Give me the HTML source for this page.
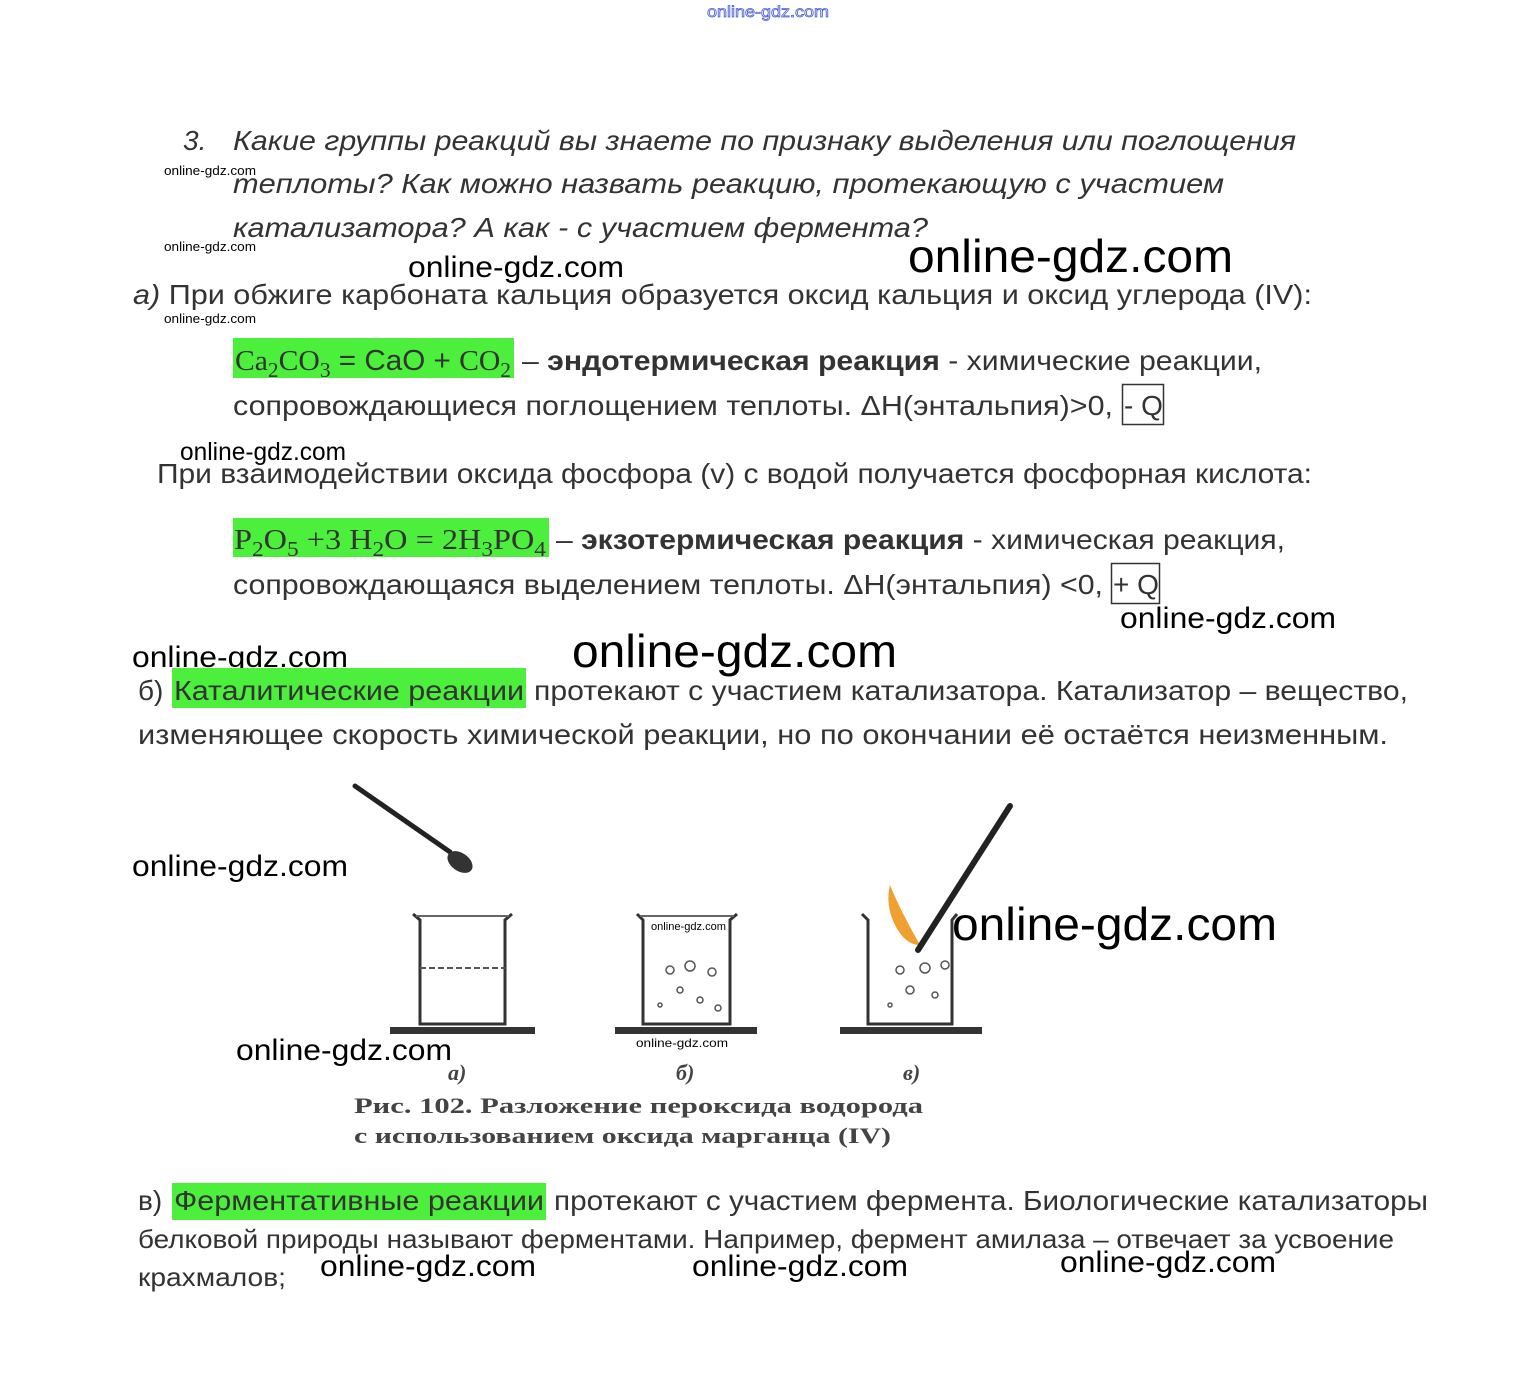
<!DOCTYPE html>
<html><head><meta charset="utf-8"><style>
html,body{margin:0;padding:0;background:#fff;}
svg{display:block;}
.b{font-family:"Liberation Sans","DejaVu Sans",sans-serif;font-size:28px;fill:#333;}
.i{font-family:"Liberation Sans","DejaVu Sans",sans-serif;font-size:28px;fill:#333;font-style:italic;}
.w{font-family:"Liberation Sans","DejaVu Sans",sans-serif;fill:#000;}
.f{font-family:"Liberation Serif","DejaVu Serif",serif;font-size:29px;fill:#333;}
.c{font-family:"Liberation Serif","DejaVu Serif",serif;font-size:22px;font-weight:bold;fill:#444;}
</style></head><body>
<svg width="1537" height="1379" viewBox="0 0 1537 1379" xmlns="http://www.w3.org/2000/svg">
<text x="707" y="17" class="w" style="font-size:16px;fill:none;stroke:#4a5fd0;stroke-width:0.8" textLength="122" lengthAdjust="spacingAndGlyphs">online-gdz.com</text>

<text x="183" y="150" class="i">3.</text>
<text x="233" y="150" class="i" textLength="1063" lengthAdjust="spacingAndGlyphs">Какие группы реакций вы знаете по признаку выделения или поглощения</text>
<text x="233" y="193" class="i" textLength="991" lengthAdjust="spacingAndGlyphs">теплоты? Как можно назвать реакцию, протекающую с участием</text>
<text x="233" y="237" class="i" textLength="695" lengthAdjust="spacingAndGlyphs">катализатора? А как -  с участием фермента?</text>
<text x="164" y="175" class="w" style="font-size:13px" textLength="92" lengthAdjust="spacingAndGlyphs">online-gdz.com</text>
<text x="164" y="251" class="w" style="font-size:13px" textLength="92" lengthAdjust="spacingAndGlyphs">online-gdz.com</text>
<text x="164" y="323" class="w" style="font-size:13px" textLength="92" lengthAdjust="spacingAndGlyphs">online-gdz.com</text>
<text x="408" y="277" class="w" style="font-size:30px" textLength="216" lengthAdjust="spacingAndGlyphs">online-gdz.com</text>
<text x="908" y="272" class="w" style="font-size:46px" textLength="325" lengthAdjust="spacingAndGlyphs">online-gdz.com</text>

<text x="133" y="304" class="b" textLength="1179" lengthAdjust="spacingAndGlyphs"><tspan font-style="italic">а)</tspan> При обжиге карбоната кальция образуется оксид кальция и оксид углерода (IV):</text>

<rect x="233" y="338" width="281" height="40" fill="#4cf03c"/>
<text x="235" y="370" class="f" textLength="276" lengthAdjust="spacingAndGlyphs">Ca<tspan dy="7" font-size="21">2</tspan><tspan dy="-7">CO</tspan><tspan dy="7" font-size="21">3</tspan><tspan dy="-7" font-family="Liberation Sans"> = CaO + </tspan>CO<tspan dy="7" font-size="21">2</tspan></text>
<text x="522" y="370" class="b" textLength="740" lengthAdjust="spacingAndGlyphs">– <tspan font-weight="bold">эндотермическая реакция</tspan> - химические реакции,</text>
<text x="233" y="415" class="b" textLength="880" lengthAdjust="spacingAndGlyphs">сопровождающиеся поглощением теплоты. ΔH(энтальпия)&gt;0,</text>
<rect x="1122.5" y="384.5" width="41" height="40" fill="none" stroke="#333" stroke-width="1.5"/>
<text x="1124" y="415" class="b">- Q</text>
<text x="180" y="460" class="w" style="font-size:25px" textLength="166" lengthAdjust="spacingAndGlyphs">online-gdz.com</text>

<text x="157" y="483" class="b" textLength="1155" lengthAdjust="spacingAndGlyphs">При взаимодействии оксида фосфора (v) с водой получается фосфорная кислота:</text>
<rect x="233" y="518" width="316" height="39" fill="#4cf03c"/>
<text x="234" y="549" class="f" textLength="312" lengthAdjust="spacingAndGlyphs">P<tspan dy="7" font-size="21">2</tspan><tspan dy="-7">O</tspan><tspan dy="7" font-size="21">5</tspan><tspan dy="-7"> +3 H</tspan><tspan dy="7" font-size="21">2</tspan><tspan dy="-7">O = 2H</tspan><tspan dy="7" font-size="21">3</tspan><tspan dy="-7">PO</tspan><tspan dy="7" font-size="21">4</tspan></text>
<text x="556" y="549" class="b" textLength="729" lengthAdjust="spacingAndGlyphs">– <tspan font-weight="bold">экзотермическая реакция</tspan> - химическая реакция,</text>
<text x="233" y="594" class="b" textLength="870" lengthAdjust="spacingAndGlyphs">сопровождающаяся выделением теплоты. ΔH(энтальпия) &lt;0,</text>
<rect x="1111.5" y="563.5" width="48" height="40" fill="none" stroke="#333" stroke-width="1.5"/>
<text x="1113" y="594" class="b">+ Q</text>
<text x="1120" y="628" class="w" style="font-size:30px" textLength="216" lengthAdjust="spacingAndGlyphs">online-gdz.com</text>
<text x="132" y="667" class="w" style="font-size:30px" textLength="216" lengthAdjust="spacingAndGlyphs">online-gdz.com</text>
<text x="572" y="667" class="w" style="font-size:46px" textLength="325" lengthAdjust="spacingAndGlyphs">online-gdz.com</text>

<rect x="172" y="668" width="354" height="40" fill="#4cf03c"/>
<text x="138" y="700" class="b">б)</text>
<text x="174" y="700" class="b" textLength="350" lengthAdjust="spacingAndGlyphs">Каталитические реакции</text>
<text x="534" y="700" class="b" textLength="874" lengthAdjust="spacingAndGlyphs">протекают с участием катализатора. Катализатор – вещество,</text>
<text x="138" y="744" class="b" textLength="1250" lengthAdjust="spacingAndGlyphs">изменяющее скорость химической реакции, но по окончании её остаётся неизменным.</text>

<line x1="355" y1="786" x2="450" y2="852" stroke="#222" stroke-width="5" stroke-linecap="round"/>
<ellipse cx="460" cy="862" rx="14" ry="9" transform="rotate(35 460 862)" fill="#333"/>
<g fill="none" stroke="#333" stroke-width="3">
<path d="M413 914 L420 920 L420 1024 L505 1024 L505 920 L512 914"/>
<path d="M637 914 L643 920 L643 1024 L730 1024 L730 920 L737 914"/>
<path d="M862 914 L868 920 L868 1024 L952 1024 L952 920 L957 914"/>
</g>
<line x1="416" y1="916" x2="509" y2="916" stroke="#666" stroke-width="2"/>
<line x1="640" y1="916" x2="734" y2="916" stroke="#666" stroke-width="2"/>
<line x1="420" y1="968" x2="505" y2="968" stroke="#555" stroke-width="2" stroke-dasharray="6 3"/>
<g fill="none" stroke="#555" stroke-width="1.5">
<circle cx="670" cy="970" r="4"/><circle cx="690" cy="966" r="5"/><circle cx="712" cy="972" r="4"/><circle cx="680" cy="990" r="3"/><circle cx="700" cy="1000" r="3"/><circle cx="660" cy="1005" r="2"/><circle cx="718" cy="1008" r="3"/>
<circle cx="900" cy="970" r="4"/><circle cx="925" cy="968" r="5"/><circle cx="945" cy="965" r="4"/><circle cx="910" cy="990" r="4"/><circle cx="935" cy="995" r="3"/><circle cx="890" cy="1005" r="2"/>
</g>
<rect x="390" y="1027" width="145" height="7" fill="#333"/>
<rect x="615" y="1027" width="142" height="7" fill="#333"/>
<rect x="840" y="1027" width="142" height="7" fill="#333"/>
<path d="M890 885 Q900 910 920 945 Q905 945 895 925 Q885 905 890 885Z" fill="#f0a030"/>
<line x1="1010" y1="806" x2="918" y2="950" stroke="#222" stroke-width="6" stroke-linecap="round"/>
<text x="448" y="1080" class="c" font-style="italic">а)</text>
<text x="676" y="1080" class="c" font-style="italic">б)</text>
<text x="903" y="1080" class="c" font-style="italic">в)</text>
<text x="354" y="1113" class="c" textLength="569" lengthAdjust="spacingAndGlyphs">Рис. 102. Разложение пероксида водорода</text>
<text x="354" y="1143" class="c" textLength="537" lengthAdjust="spacingAndGlyphs">с использованием оксида марганца (IV)</text>
<text x="132" y="876" class="w" style="font-size:30px" textLength="216" lengthAdjust="spacingAndGlyphs">online-gdz.com</text>
<text x="952" y="940" class="w" style="font-size:46px" textLength="325" lengthAdjust="spacingAndGlyphs">online-gdz.com</text>
<text x="236" y="1060" class="w" style="font-size:30px" textLength="216" lengthAdjust="spacingAndGlyphs">online-gdz.com</text>
<text x="651" y="930" class="w" style="font-size:11px" textLength="75" lengthAdjust="spacingAndGlyphs">online-gdz.com</text>
<text x="636" y="1047" class="w" style="font-size:12px" textLength="92" lengthAdjust="spacingAndGlyphs">online-gdz.com</text>

<rect x="172" y="1183" width="374" height="37" fill="#4cf03c"/>
<text x="138" y="1210" class="b">в)</text>
<text x="174" y="1210" class="b" textLength="370" lengthAdjust="spacingAndGlyphs">Ферментативные реакции</text>
<text x="554" y="1210" class="b" textLength="874" lengthAdjust="spacingAndGlyphs">протекают с участием фермента. Биологические катализаторы</text>
<text x="138" y="1248" class="b" style="font-size:26px" textLength="1256" lengthAdjust="spacingAndGlyphs">белковой природы называют ферментами. Например, фермент амилаза – отвечает за усвоение</text>
<text x="138" y="1286" class="b" style="font-size:26px" textLength="148" lengthAdjust="spacingAndGlyphs">крахмалов;</text>
<text x="320" y="1276" class="w" style="font-size:30px" textLength="216" lengthAdjust="spacingAndGlyphs">online-gdz.com</text>
<text x="692" y="1276" class="w" style="font-size:30px" textLength="216" lengthAdjust="spacingAndGlyphs">online-gdz.com</text>
<text x="1060" y="1272" class="w" style="font-size:30px" textLength="216" lengthAdjust="spacingAndGlyphs">online-gdz.com</text>
</svg>
</body></html>
